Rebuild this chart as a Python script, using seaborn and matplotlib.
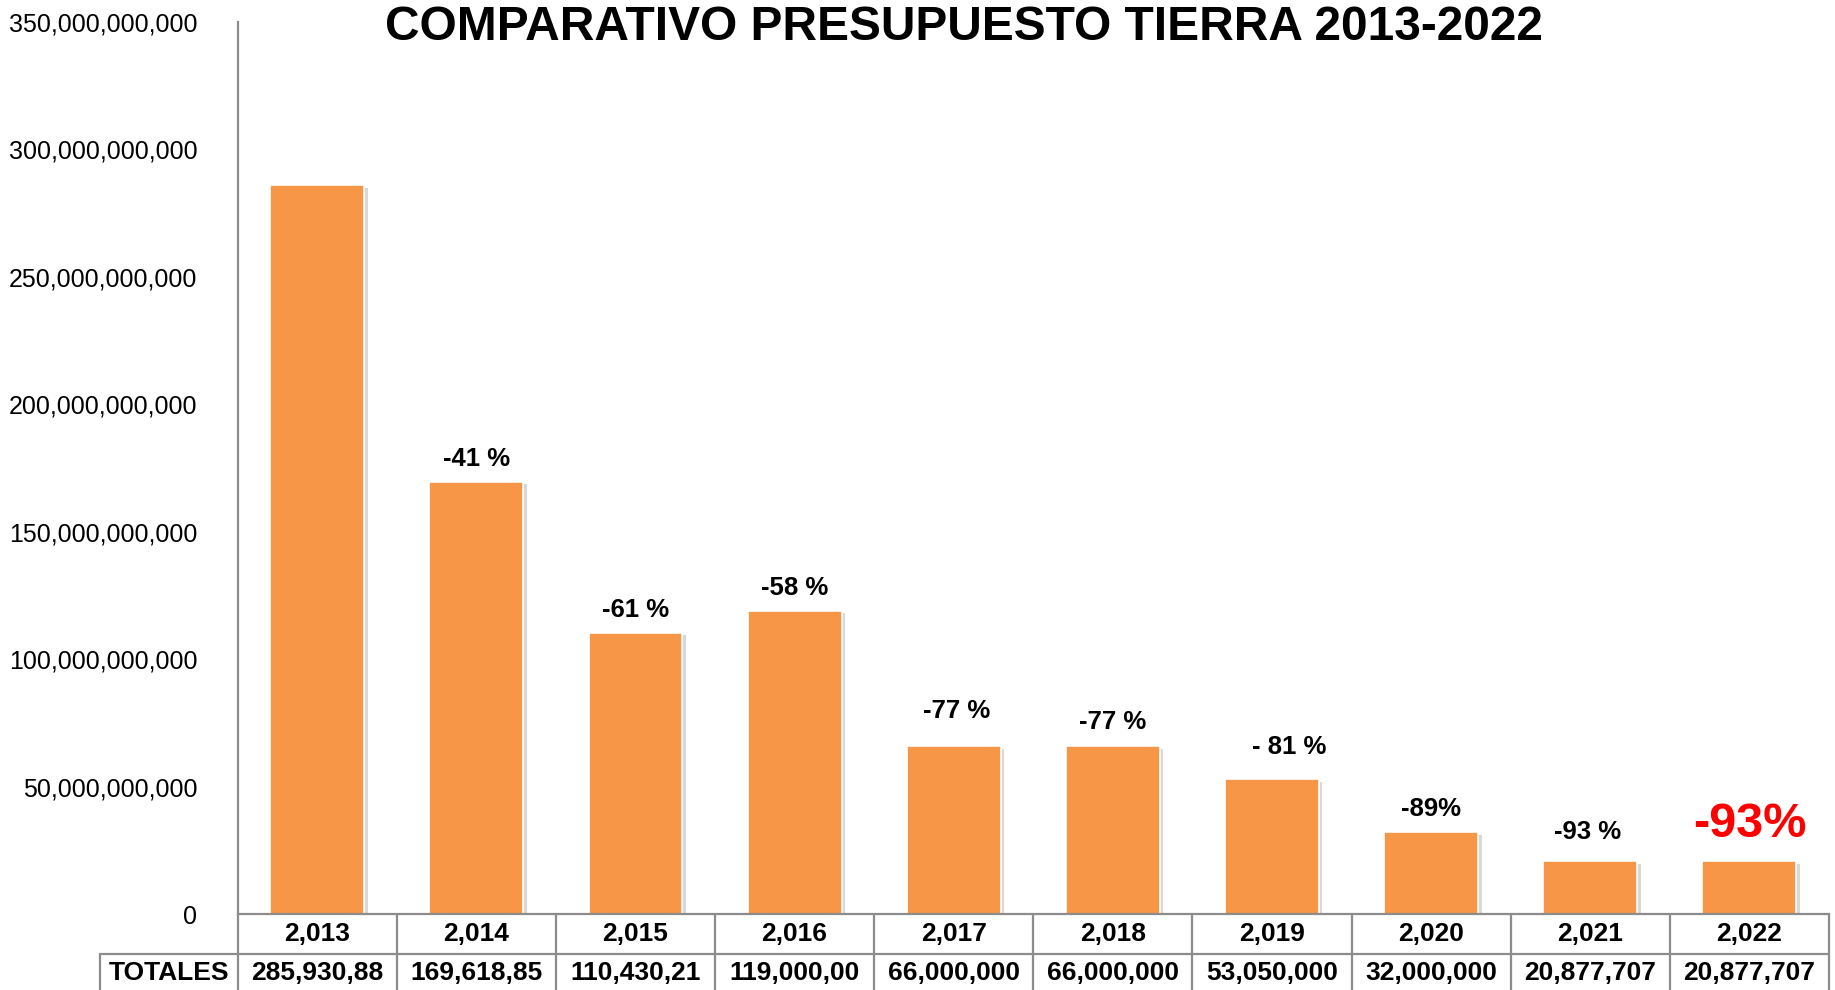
import matplotlib
matplotlib.use("Agg")
import matplotlib.pyplot as plt
import matplotlib.patheffects as pe
import matplotlib.transforms as mtransforms
from matplotlib.ticker import FuncFormatter
import seaborn as sns
import pandas as pd

# ---- data ----
years = ["2,013", "2,014", "2,015", "2,016", "2,017", "2,018", "2,019", "2,020", "2,021", "2,022"]
values = [285.93e9, 169.62e9, 110.43e9, 119.0e9, 66.0e9, 66.0e9, 53.05e9, 32.0e9, 20.88e9, 20.88e9]
totals = ["285,930,88", "169,618,85", "110,430,21", "119,000,00", "66,000,000",
          "66,000,000", "53,050,000", "32,000,000", "20,877,707", "20,877,707"]
pct_labels = ["", "-41 %", "-61 %", "-58 %", "-77 %", "-77 %", "- 81 %", "-89%", "-93 %", "-93%"]
row_header = "TOTALES"
title = "COMPARATIVO PRESUPUESTO TIERRA 2013-2022"

# ---- style ----
sns.set_theme(style="white")
plt.rcParams['font.family'] = ['Liberation Sans', 'DejaVu Sans']
plt.rcParams['text.color'] = 'black'

BAR = "#F79646"
GRID = "#8c8c8c"

fig = plt.figure(figsize=(18.35, 9.9), dpi=100)
W, H = 1835, 990
ax_left, ax_right, ax_top, ax_bot = 237.6, 1829, 22, 914
ax = fig.add_axes([ax_left / W, 1 - ax_bot / H, (ax_right - ax_left) / W, (ax_bot - ax_top) / H])

df = pd.DataFrame({"year": years, "value": values})
sns.barplot(data=df, x="year", y="value", color=BAR, saturation=1, width=0.59, ax=ax,
            edgecolor="white", linewidth=1.2)
for p in ax.patches:
    p.set_path_effects([pe.SimplePatchShadow(offset=(2.5, -2), shadow_rgbFace="#7f7f7f", alpha=0.3),
                        pe.Normal()])

ax.set_xlim(-0.5, len(years) - 0.5)
ax.set_ylim(0, 350e9)
ax.set_yticks([i * 50e9 for i in range(8)])
ax.yaxis.set_major_formatter(FuncFormatter(lambda v, _: f"{v:,.0f}"))
ax.tick_params(axis="y", labelsize=18, pad=29, length=0, colors="black")
ax.set_xticks([])
ax.set_xlabel("")
ax.set_ylabel("")
for s in ["top", "right"]:
    ax.spines[s].set_visible(False)
for s in ["left", "bottom"]:
    ax.spines[s].set_color(GRID)
    ax.spines[s].set_linewidth(1.6)

# ---- percent labels ----
dx_px = [0, 0, 0, 0, 3, 0, 17, 0, -3, 0]
dy_px = [0, 23, 23, 23, 35, 24, 32, 23, 29, 36]
for i, (lab, v) in enumerate(zip(pct_labels, values)):
    if not lab:
        continue
    red = i == len(values) - 1
    ax.annotate(lab, xy=(i, v), xytext=(dx_px[i], dy_px[i]), textcoords="offset pixels",
                ha="center", va="center", fontsize=35 if red else 18.5, fontweight="bold",
                color="#FF0000" if red else "black", annotation_clip=False)

# ---- table under the axis ----
trans = mtransforms.blended_transform_factory(ax.transData, ax.transAxes)
axh = ax_bot - ax_top
r1 = -(954 - ax_bot) / axh
r2 = -(992 - ax_bot) / axh
hdr_left = -0.5 - (ax_left - 100) / 159.2
n = len(years)
lkw = dict(color=GRID, lw=1.6, transform=trans, clip_on=False)
ax.plot([-0.5, n - 0.5], [r1, r1], **lkw)
ax.plot([hdr_left, n - 0.5], [r2, r2], **lkw)
ax.plot([hdr_left, -0.5], [r1, r1], **lkw)
ax.plot([hdr_left, hdr_left], [r1, r2], **lkw)
for k in range(n + 1):
    ax.plot([k - 0.5, k - 0.5], [0, r2], **lkw)
for i in range(n):
    ax.text(i, r1 / 2, years[i], transform=trans, ha="center", va="center",
            fontsize=19, fontweight="bold", color="black", clip_on=False)
    ax.text(i, (r1 + r2) / 2, totals[i], transform=trans, ha="center", va="center",
            fontsize=19, fontweight="bold", color="black", clip_on=False)
ax.text((hdr_left - 0.5) / 2, (r1 + r2) / 2, row_header, transform=trans, ha="center", va="center",
        fontsize=19, fontweight="bold", color="black", clip_on=False)

fig.text(964 / W, 1 - 28 / H, title, ha="center", va="center", fontsize=34.5,
         fontweight="bold", color="black")

fig.savefig("out.png", dpi=100)
